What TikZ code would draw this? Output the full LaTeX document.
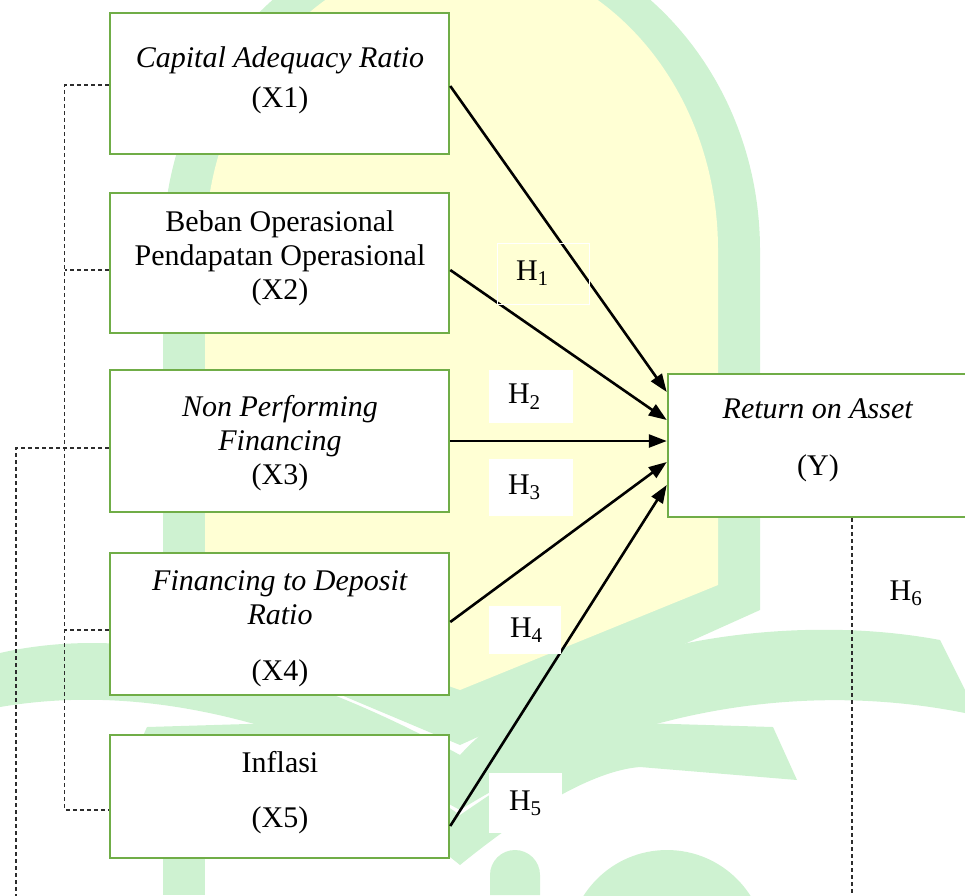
\documentclass[tikz,border=0pt]{standalone}
\usepackage{fontspec}
\setmainfont{Liberation Serif}
\usetikzlibrary{arrows.meta,calc}
\definecolor{boxgreen}{RGB}{112,173,71}
\definecolor{wmgreen}{RGB}{206,242,209}
\definecolor{wmyellow}{RGB}{255,255,212}
\definecolor{dashgray}{RGB}{45,45,45}
\begin{document}
\begin{tikzpicture}[x=1pt,y=-1pt,
  varbox/.style={draw=boxgreen, line width=2.5pt, fill=white, inner sep=0pt},
  txt/.style={align=center, inner sep=0pt, font=\fontsize{30}{34}\selectfont},
  hyp/.style={fill=white, inner ysep=0pt, align=left, font=\fontsize{30}{34}\selectfont},
  arr/.style={line width=2.6pt, -{Triangle[length=18pt,width=13pt]}},
  dsh/.style={dashgray, line width=1.2pt, dash pattern=on 4pt off 3pt}]
\useasboundingbox (0,0) rectangle (965,895);
\clip (0,0) rectangle (965,895);
% ---------- watermark ----------
\fill[wmgreen] (163,620) -- (163,250) arc[start angle=180,end angle=0,x radius=298.5pt,y radius=323pt] -- (760,610) -- (460,745) -- cycle;
\fill[wmyellow] (205,600) -- (205,250) arc[start angle=180,end angle=0,x radius=256.5pt,y radius=295pt] -- (718,585) -- (460,690) -- cycle;
\fill[wmgreen] (0,653) .. controls (100,630) and (250,640) .. (460,755) -- (460,810) .. controls (250,695) and (100,690) .. (0,707) -- cycle;
\fill[wmgreen] (460,755) .. controls (560,645) and (780,610) .. (940,640) -- (965,690) -- (965,713) .. controls (800,680) and (620,710) .. (460,810) -- cycle;
\fill[wmgreen] (460,815) .. controls (540,760) and (600,725) .. (640,723) -- (773,727) -- (797,780) -- (640,767) .. controls (600,770) and (540,800) .. (460,865) -- cycle;
\fill[wmgreen] (460,815) .. controls (380,760) and (320,725) .. (280,723) -- (147,727) -- (123,780) -- (280,767) .. controls (320,770) and (380,800) .. (460,865) -- cycle;
\fill[wmgreen] (163,775) rectangle (205,895);
\fill[wmgreen] (490,895) -- (490,875) arc[start angle=180,end angle=0,radius=25pt] -- (540,895) -- cycle;
\fill[wmgreen] (667,949) circle[radius=99pt];
% ---------- boxes ----------
\node[varbox, minimum width=339pt, minimum height=141pt] (b1) at (279.5,83.5) {};
\node[varbox, minimum width=339pt, minimum height=140pt] (b2) at (279.5,263) {};
\node[varbox, minimum width=339pt, minimum height=142pt] (b3) at (279.5,441) {};
\node[varbox, minimum width=339pt, minimum height=142pt] (b4) at (279.5,624) {};
\node[varbox, minimum width=339pt, minimum height=123pt] (b5) at (279.5,796.5) {};
\node[varbox, minimum width=300pt, minimum height=143pt] (yb) at (818,445.5) {};
\node[txt] (t1) at (280,80) {\textit{Capital Adequacy Ratio}\\[6pt](X1)};
\node[txt] (t2) at (280,258) {Beban Operasional\\Pendapatan Operasional\\(X2)};
\node[txt] (t3) at (280,443) {\textit{Non Performing}\\\textit{Financing}\\(X3)};
\node[txt] (t4) at (280,629) {\textit{Financing to Deposit}\\\textit{Ratio}\\[22pt](X4)};
\node[txt] (t5) at (280,792.5) {Inflasi\\[21pt](X5)};
\node[txt] (ty) at (818,440.5) {\textit{Return on Asset}\\[23pt](Y)};
% ---------- arrows ----------
\draw[arr] ($(b1.east)+(0,2.5)$) -- ($(yb.west)+(0,-53.5)$);
\draw[arr] ($(b2.east)+(0,7)$) -- ($(yb.west)+(0,-25.5)$);
\draw[arr] ($(b3.east)+(0,0)$) -- ($(yb.west)+(0,-4.5)$);
\draw[arr] ($(b4.east)+(0,-2)$) -- ($(yb.west)+(0,16.5)$);
\draw[arr] ($(b5.east)+(0,29.5)$) -- ($(yb.west)+(0,39.5)$);
% ---------- dashed links ----------
\coordinate (lbot) at (16,900);
\coordinate (rbot) at (852,900);
\draw[dsh] ($(b1.west)+(0,1.5)$) -| ($(b5.west)+(-44,13.5)$) -- ($(b5.west)+(0,13.5)$);
\draw[dsh] ($(b2.west)+(0,7)$) -- ($(b2.west)+(-44,7)$);
\draw[dsh] ($(b4.west)+(0,6)$) -- ($(b4.west)+(-44,6)$);
\draw[dsh] ($(b3.west)+(0,7)$) -| (lbot);
\draw[dsh] ($(yb.south)+(34,0)$) -- (rbot);
% ---------- hypothesis labels ----------
\node[draw=white, line width=0.8pt, inner xsep=19pt, inner ysep=0pt, minimum height=61pt, text width=54pt, align=left, font=\fontsize{30}{34}\selectfont] (h1) at (543,273.5) {H\textsubscript{1}};
\node[hyp, inner xsep=19pt, text width=46pt, minimum height=53pt] (h2) at (531,396.5) {H\textsubscript{2}};
\node[hyp, inner xsep=19pt, text width=46pt, minimum height=57pt] (h3) at (531,487.5) {H\textsubscript{3}};
\node[hyp, inner xsep=21pt, text width=30pt, minimum height=48pt] (h4) at (525,630) {H\textsubscript{4}};
\node[hyp, inner xsep=20pt, text width=33pt, minimum height=60pt] (h5) at (525.5,803) {H\textsubscript{5}};
\node[txt] (h6) at (906,593) {H\textsubscript{6}};
\end{tikzpicture}
\end{document}
